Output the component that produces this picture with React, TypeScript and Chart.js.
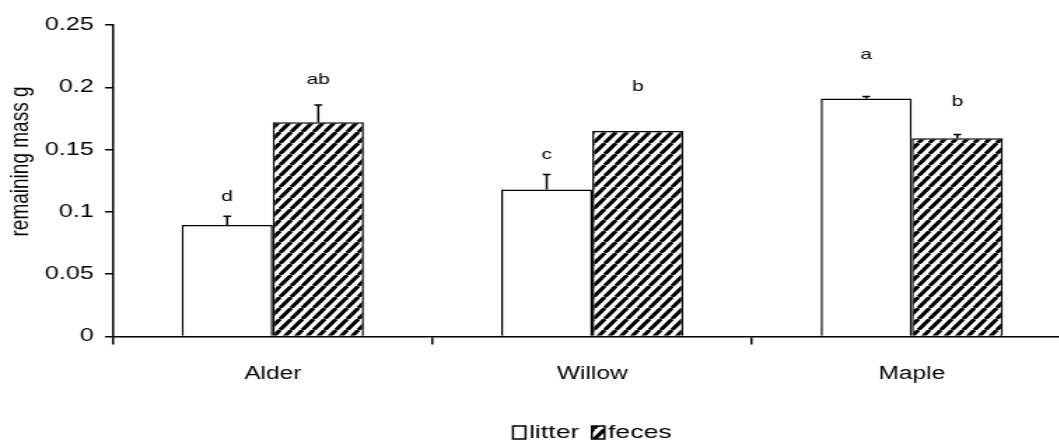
import React, { useEffect, useRef } from 'react';
import { Chart, registerables } from 'chart.js';

Chart.register(...registerables);

const categories = ['Alder', 'Willow', 'Maple'];
const seriesNames = ['litter', 'feces'];
const litterValues = [0.0895, 0.118, 0.191];
const litterErrors = [0.007, 0.012, 0.0015];
const fecesValues = [0.172, 0.165, 0.159];
const fecesErrors = [0.0137, 0, 0.003];
const litterLetters = ['d', 'c', 'a'];
const fecesLetters = ['ab', 'b', 'b'];
const litterLetterY = [0.112, 0.146, 0.226];
const fecesLetterY = [0.206, 0.2, 0.188];
const yTickLabels = ['0', '0.05', '0.1', '0.15', '0.2', '0.25'];
const yTitle = 'remaining mass g';

const FAMILY = "'Liberation Sans', Arial, sans-serif";
const SX = 1.4;
const CSS_W = 1085;
const W = Math.round(CSS_W / SX);
const H = 444;

export default function App() {
  const ref = useRef<HTMLCanvasElement>(null);

  useEffect(() => {
    const canvas = ref.current!;
    const TW = 8;
    const TH = 11;
    const tile = document.createElement('canvas');
    tile.width = TW;
    tile.height = TH;
    const t = tile.getContext('2d')!;
    t.fillStyle = '#fff';
    t.fillRect(0, 0, TW, TH);
    t.strokeStyle = '#000';
    t.lineWidth = 3.1;
    t.beginPath();
    for (const dx of [-TW, 0, TW]) {
      t.moveTo(dx, TH);
      t.lineTo(dx + TW, 0);
    }
    t.stroke();
    const hatch = canvas.getContext('2d')!.createPattern(tile, 'repeat')!;

    const errs = [litterErrors, fecesErrors];
    const vals = [litterValues, fecesValues];
    const letters = [litterLetters, fecesLetters];
    const letterY = [litterLetterY, fecesLetterY];

    const overlay = {
      id: 'overlay',
      afterDatasetsDraw(chart: any) {
        const ctx = chart.ctx;
        const ys = chart.scales.y;
        ctx.save();
        ctx.strokeStyle = '#000';
        ctx.lineWidth = 1.5;
        for (let i = 0; i < 2; i++) {
          const meta = chart.getDatasetMeta(i);
          meta.data.forEach((el: any, j: number) => {
            const err = errs[i][j];
            if (err > 0) {
              const y0 = ys.getPixelForValue(vals[i][j]);
              const y1 = ys.getPixelForValue(vals[i][j] + err);
              ctx.beginPath();
              ctx.moveTo(el.x, y0);
              ctx.lineTo(el.x, y1);
              ctx.moveTo(el.x - 2.8, y1);
              ctx.lineTo(el.x + 2.8, y1);
              ctx.stroke();
            }
            ctx.fillStyle = '#000';
            ctx.font = `15px ${FAMILY}`;
            ctx.textAlign = 'center';
            ctx.textBaseline = 'middle';
            ctx.fillText(letters[i][j], el.x, ys.getPixelForValue(letterY[i][j]));
          });
        }
        ctx.restore();
      },
      afterDraw(chart: any) {
        const ctx = chart.ctx;
        const area = chart.chartArea;
        ctx.save();
        ctx.fillStyle = '#000';
        ctx.font = `19px ${FAMILY}`;
        ctx.textAlign = 'center';
        ctx.textBaseline = 'middle';
        ctx.translate(14.3, 161.5);
        ctx.rotate(-Math.PI / 2);
        ctx.fillText(yTitle, 0, 0);
        ctx.restore();

        ctx.save();
        ctx.font = `19px ${FAMILY}`;
        ctx.textBaseline = 'middle';
        ctx.textAlign = 'left';
        const boxW = 9;
        const boxH = 13;
        const gap = 2.5;
        const itemGap = 9;
        const widths = seriesNames.map((n) => boxW + gap + ctx.measureText(n).width);
        const total = widths.reduce((a, b) => a + b, 0) + itemGap * (widths.length - 1);
        let x = (area.left + area.right) / 2 - total / 2;
        const cy = 432.5;
        const fills = ['#fff', hatch];
        seriesNames.forEach((n, i) => {
          ctx.fillStyle = fills[i];
          ctx.fillRect(x, cy - boxH / 2, boxW, boxH);
          ctx.strokeStyle = '#000';
          ctx.lineWidth = 1.5;
          ctx.strokeRect(x, cy - boxH / 2, boxW, boxH);
          ctx.fillStyle = '#000';
          ctx.fillText(n, x + boxW + gap, cy);
          x += widths[i] + itemGap;
        });
        ctx.restore();
      },
    };

    Chart.defaults.font.family = FAMILY;
    Chart.defaults.color = '#000';

    const chart = new Chart(canvas, {
      type: 'bar',
      data: {
        labels: categories,
        datasets: [
          {
            label: seriesNames[0],
            data: litterValues,
            backgroundColor: '#fff',
            borderColor: '#000',
            borderWidth: 1.5,
          },
          {
            label: seriesNames[1],
            data: fecesValues,
            backgroundColor: hatch as any,
            borderColor: '#000',
            borderWidth: 1.5,
          },
        ],
      },
      options: {
        responsive: false,
        animation: false,
        devicePixelRatio: 1,
        layout: { padding: { top: 25, bottom: 40.6, left: 0, right: W - 765.4 } },
        plugins: { legend: { display: false }, tooltip: { enabled: false } },
        datasets: { bar: { categoryPercentage: 0.57, barPercentage: 1 } },
        scales: {
          x: {
            z: 1,
            grid: {
              display: true,
              drawOnChartArea: false,
              drawTicks: true,
              tickLength: 8,
              color: '#000',
              lineWidth: 1.5,
              offset: true,
            },
            border: { display: true, color: '#000', width: 1.5 },
            ticks: {
              color: '#000',
              font: { size: 17.5, family: FAMILY },
              padding: 19,
              maxRotation: 0,
              autoSkip: false,
            },
          },
          y: {
            min: 0,
            max: 0.25,
            afterFit: (s: any) => {
              s.width = 80.7;
            },
            grid: {
              drawOnChartArea: false,
              drawTicks: true,
              tickLength: 5.7,
              color: '#000',
              lineWidth: 1.5,
            },
            border: { display: true, color: '#000', width: 1.5 },
            ticks: {
              stepSize: 0.05,
              padding: 8,
              color: '#000',
              font: { size: 18, family: FAMILY },
              callback: (_v: any, i: number) => yTickLabels[i],
            },
          },
        },
      },
      plugins: [overlay],
    });
    return () => chart.destroy();
  }, []);

  return (
    <div
      style={{
        position: 'fixed',
        left: 0,
        top: 0,
        width: 1059,
        height: 444,
        overflow: 'hidden',
        background: '#fff',
      }}
    >
      <canvas
        ref={ref}
        width={W}
        height={H}
        style={{ width: `${CSS_W}px`, height: `${H}px`, display: 'block' }}
      />
    </div>
  );
}
